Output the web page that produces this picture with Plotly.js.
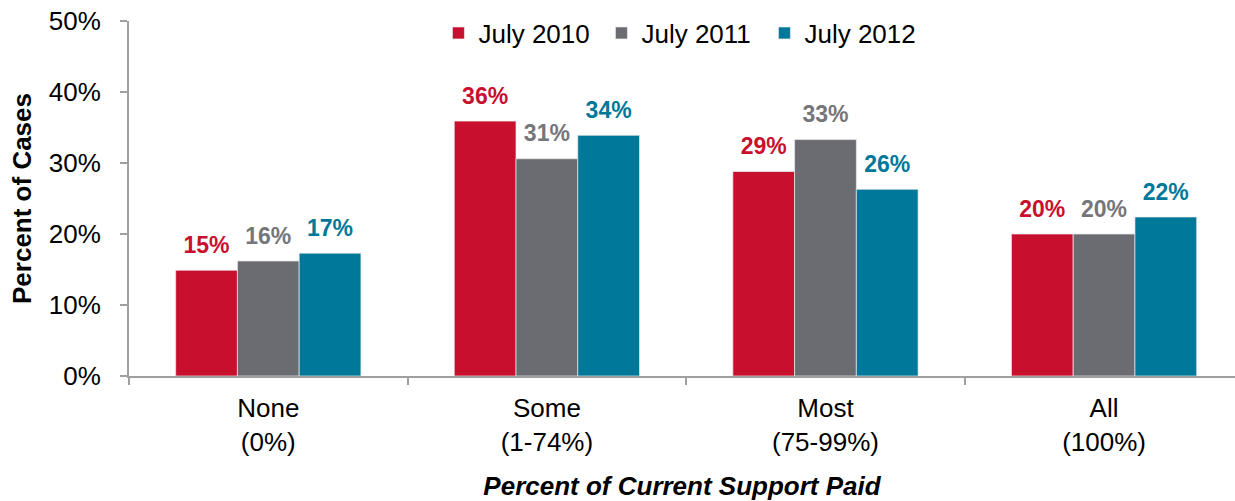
<!DOCTYPE html>
<html>
<head>
<meta charset="utf-8">
<script src="https://cdn.plot.ly/plotly-3.0.1.min.js"></script>
<style>
  html, body { margin: 0; padding: 0; background: #fff; overflow: hidden; }
  #chart { width: 1235px; height: 501px; }
</style>
</head>
<body>
<div id="chart"></div>
<script>
// ---- data ----
var categories = ["None<br>(0%)", "Some<br>(1-74%)", "Most<br>(75-99%)", "All<br>(100%)"];
var seriesNames = ["July 2010", "July 2011", "July 2012"];
var july2010 = [14.9, 35.9, 28.8, 20.0];
var july2011 = [16.2, 30.6, 33.3, 20.0];
var july2012 = [17.3, 33.9, 26.3, 22.4];
var labels2010 = ["15%", "36%", "29%", "20%"];
var labels2011 = ["16%", "31%", "33%", "20%"];
var labels2012 = ["17%", "34%", "26%", "22%"];
var yTickVals = [0, 10, 20, 30, 40, 50];
var yTickText = ["0%", "10%", "20%", "30%", "40%", "50%"];

var colors = ["#C8102E", "#6B6C71", "#00789A"];
var labelColors = ["#C8102E", "#75767A", "#00789A"];
var FONT = "Liberation Sans, Arial, Helvetica, sans-serif";

var seriesVals = [july2010, july2011, july2012];
var seriesLabels = [labels2010, labels2011, labels2012];

var traces = [];
seriesVals.forEach(function (vals, i) {
  traces.push({
    type: "bar",
    name: seriesNames[i],
    x: categories,
    y: vals,
    offsetgroup: "g" + i,
    marker: { color: colors[i], line: { color: "rgba(235,235,235,0.7)", width: 1 } },
    hoverinfo: "skip"
  });
});
seriesVals.forEach(function (vals, i) {
  traces.push({
    type: "scatter",
    mode: "markers+text",
    x: categories,
    y: vals,
    offsetgroup: "g" + i,
    text: seriesLabels[i],
    textposition: "top center",
    textfont: { family: FONT, size: 23, color: labelColors[i], weight: "bold" },
    marker: { size: 17, color: "rgba(0,0,0,0)" },
    showlegend: false,
    hoverinfo: "skip",
    cliponaxis: false
  });
});

var layout = {
  width: 1235,
  height: 501,
  margin: { l: 129, r: 0, t: 21, b: 125, autoexpand: false },
  paper_bgcolor: "#ffffff",
  plot_bgcolor: "#ffffff",
  font: { family: FONT, size: 26, color: "#000" },
  barmode: "group",
  scattermode: "group",
  bargap: 0.335,
  bargroupgap: 0,
  scattergap: 0.335,
  showlegend: true,
  legend: {
    orientation: "h",
    xref: "container",
    yref: "container",
    x: 0.355,
    xanchor: "left",
    y: 0.934,
    yanchor: "middle",
    font: { family: FONT, size: 26, color: "#000" },
    entrywidth: 118,
    itemwidth: 30,
    bgcolor: "rgba(0,0,0,0)",
    traceorder: "normal"
  },
  xaxis: {
    type: "category",
    range: [-0.5, 3.47],
    tickson: "boundaries",
    ticks: "outside",
    ticklen: 7,
    tickwidth: 2,
    tickcolor: "#A0A0A0",
    showline: true,
    linecolor: "#A0A0A0",
    linewidth: 2,
    showgrid: false,
    zeroline: false,
    tickfont: { family: FONT, size: 26, color: "#000" },
    ticklabelstandoff: 8,
    fixedrange: true,
    title: {
      text: "<b><i>Percent of Current Support Paid</i></b>",
      font: { family: FONT, size: 26, color: "#000" },
      standoff: 24
    }
  },
  yaxis: {
    range: [0, 50],
    tickmode: "array",
    tickvals: yTickVals,
    ticktext: yTickText,
    ticks: "outside",
    ticklen: 7,
    tickwidth: 2,
    tickcolor: "#A0A0A0",
    showline: true,
    linecolor: "#A0A0A0",
    linewidth: 2,
    showgrid: false,
    zeroline: false,
    tickfont: { family: FONT, size: 26, color: "#000" },
    ticklabelstandoff: 14,
    fixedrange: true,
    title: {
      text: "<b>Percent of Cases</b>",
      font: { family: FONT, size: 26, color: "#000" },
      standoff: 10
    }
  }
};

Plotly.newPlot("chart", traces, layout, { displayModeBar: false, staticPlot: true });
</script>
</body>
</html>
